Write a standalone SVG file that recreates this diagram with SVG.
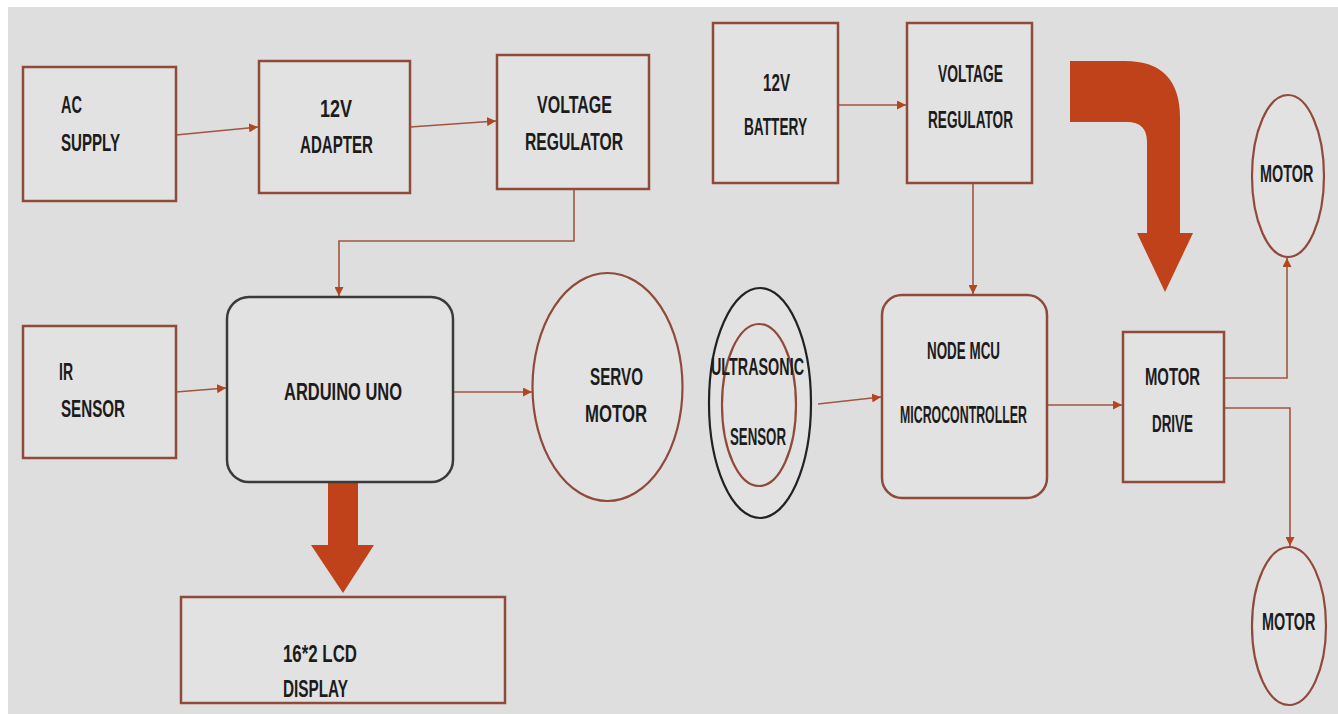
<svg xmlns="http://www.w3.org/2000/svg" width="1338" height="714" viewBox="0 0 1338 714">
<defs>
<style>
.box{fill:#e2e2e2;stroke:#8f4a3a;stroke-width:2.5}
.dark{fill:#e2e2e2;stroke:#3a3a3a;stroke-width:2.5}
.ell{fill:#e2e2e2;stroke:#8f4a3a;stroke-width:2.2}
.blk{fill:#e2e2e2;stroke:#222;stroke-width:2.2}
.t{font-family:"Liberation Sans",Arial,sans-serif;font-weight:bold;font-size:24px;fill:#1c1c1c}
.c{fill:none;stroke:#a0563f;stroke-width:1.6}
.big{fill:#c0421a}
</style>
<marker id="ah" viewBox="0 0 10 10" refX="10" refY="5" markerWidth="9" markerHeight="9" markerUnits="userSpaceOnUse" orient="auto">
<path d="M0 0 L10 5 L0 10 Z" fill="#b4461f"/>
</marker>
</defs>
<rect x="0" y="0" width="1338" height="714" fill="#ffffff"/>
<rect x="8" y="7" width="1330" height="707" fill="#dedede"/>

<g id="connectors">
<path class="c" d="M176 135 L258 127" marker-end="url(#ah)"/>
<path class="c" d="M410 127 L496 121" marker-end="url(#ah)"/>
<path class="c" d="M574 190 L574 241 L339 241 L339 296" marker-end="url(#ah)"/>
<path class="c" d="M838 105 L906 105" marker-end="url(#ah)"/>
<path class="c" d="M973 184 L973 294" marker-end="url(#ah)"/>
<path class="c" d="M176 392 L226 388" marker-end="url(#ah)"/>
<path class="c" d="M453 392 L532 392" marker-end="url(#ah)"/>
<path class="c" d="M818 404 L881 397" marker-end="url(#ah)"/>
<path class="c" d="M1047 405 L1122 405" marker-end="url(#ah)"/>
<path class="c" d="M1224 378 L1287 378 L1287 258" marker-end="url(#ah)"/>
<path class="c" d="M1224 408 L1290 408 L1290 546" marker-end="url(#ah)"/>
<path class="big" d="M328 481 L358 481 L358 545 L374 545 L343 593 L311 545 L328 545 Z"/>
<path class="big" d="M1070 61 L1125 61 Q1180 61 1180 118 L1180 233 L1193 233 L1165 292 L1137 233 L1147 233 L1147 142 Q1147 122 1127 122 L1070 122 Z"/>
</g>

<g id="ac-supply">
<rect class="box" x="23" y="67" width="153" height="134"/>
<text class="t" x="61" y="113" textLength="21" lengthAdjust="spacingAndGlyphs">AC</text>
<text class="t" x="61" y="151" textLength="59" lengthAdjust="spacingAndGlyphs">SUPPLY</text>
</g>
<g id="adapter">
<rect class="box" x="259" y="61" width="151" height="132"/>
<text class="t" x="320" y="117" textLength="32" lengthAdjust="spacingAndGlyphs">12V</text>
<text class="t" x="300" y="153" textLength="73" lengthAdjust="spacingAndGlyphs">ADAPTER</text>
</g>
<g id="regulator1">
<rect class="box" x="497" y="55" width="152" height="134"/>
<text class="t" x="537" y="113" textLength="75" lengthAdjust="spacingAndGlyphs">VOLTAGE</text>
<text class="t" x="525" y="150" textLength="98" lengthAdjust="spacingAndGlyphs">REGULATOR</text>
</g>
<g id="battery">
<rect class="box" x="713" y="23" width="125" height="160"/>
<text class="t" x="763" y="91" textLength="27" lengthAdjust="spacingAndGlyphs">12V</text>
<text class="t" x="744" y="135" textLength="63" lengthAdjust="spacingAndGlyphs">BATTERY</text>
</g>
<g id="regulator2">
<rect class="box" x="907" y="23" width="125" height="160"/>
<text class="t" x="938" y="82" textLength="65" lengthAdjust="spacingAndGlyphs">VOLTAGE</text>
<text class="t" x="928" y="128" textLength="85" lengthAdjust="spacingAndGlyphs">REGULATOR</text>
</g>
<g id="motor-top">
<ellipse class="ell" cx="1288" cy="176" rx="36" ry="81"/>
<text class="t" transform="translate(1260 182) scale(0.6 1)" x="0" y="0">MOTOR</text>
</g>
<g id="ir-sensor">
<rect class="box" x="23" y="326" width="153" height="132"/>
<text class="t" x="59" y="380" textLength="14" lengthAdjust="spacingAndGlyphs">IR</text>
<text class="t" x="61" y="417" textLength="64" lengthAdjust="spacingAndGlyphs">SENSOR</text>
</g>
<g id="arduino">
<rect class="dark" x="227" y="297" width="226" height="185" rx="22"/>
<text class="t" x="284" y="400" textLength="118" lengthAdjust="spacingAndGlyphs">ARDUINO UNO</text>
</g>
<g id="lcd">
<rect class="box" x="181" y="597" width="324" height="106"/>
<text class="t" x="283" y="662" textLength="74" lengthAdjust="spacingAndGlyphs">16*2 LCD</text>
<text class="t" x="283" y="697" textLength="65" lengthAdjust="spacingAndGlyphs">DISPLAY</text>
</g>
<g id="servo">
<ellipse class="ell" cx="607.5" cy="387" rx="75" ry="114"/>
<text class="t" x="590" y="385" textLength="53" lengthAdjust="spacingAndGlyphs">SERVO</text>
<text class="t" x="585" y="422" textLength="62" lengthAdjust="spacingAndGlyphs">MOTOR</text>
</g>
<g id="ultrasonic">
<ellipse class="blk" cx="760" cy="403" rx="51" ry="115"/>
<ellipse class="ell" cx="759" cy="405" rx="37" ry="81"/>
<text class="t" x="711" y="375" textLength="93" lengthAdjust="spacingAndGlyphs">ULTRASONIC</text>
<text class="t" x="730" y="445" textLength="56" lengthAdjust="spacingAndGlyphs">SENSOR</text>
</g>
<g id="nodemcu">
<rect class="box" x="882" y="295" width="165" height="203" rx="20"/>
<text class="t" x="927" y="359" textLength="73" lengthAdjust="spacingAndGlyphs">NODE MCU</text>
<text class="t" x="900" y="423" textLength="127" lengthAdjust="spacingAndGlyphs">MICROCONTROLLER</text>
</g>
<g id="motor-drive">
<rect class="box" x="1123" y="332" width="101" height="150"/>
<text class="t" x="1145" y="385" textLength="55" lengthAdjust="spacingAndGlyphs">MOTOR</text>
<text class="t" x="1152" y="432" textLength="41" lengthAdjust="spacingAndGlyphs">DRIVE</text>
</g>
<g id="motor-bottom">
<ellipse class="ell" cx="1289" cy="626" rx="37" ry="79"/>
<text class="t" transform="translate(1262 630) scale(0.6 1)" x="0" y="0">MOTOR</text>
</g>
</svg>
